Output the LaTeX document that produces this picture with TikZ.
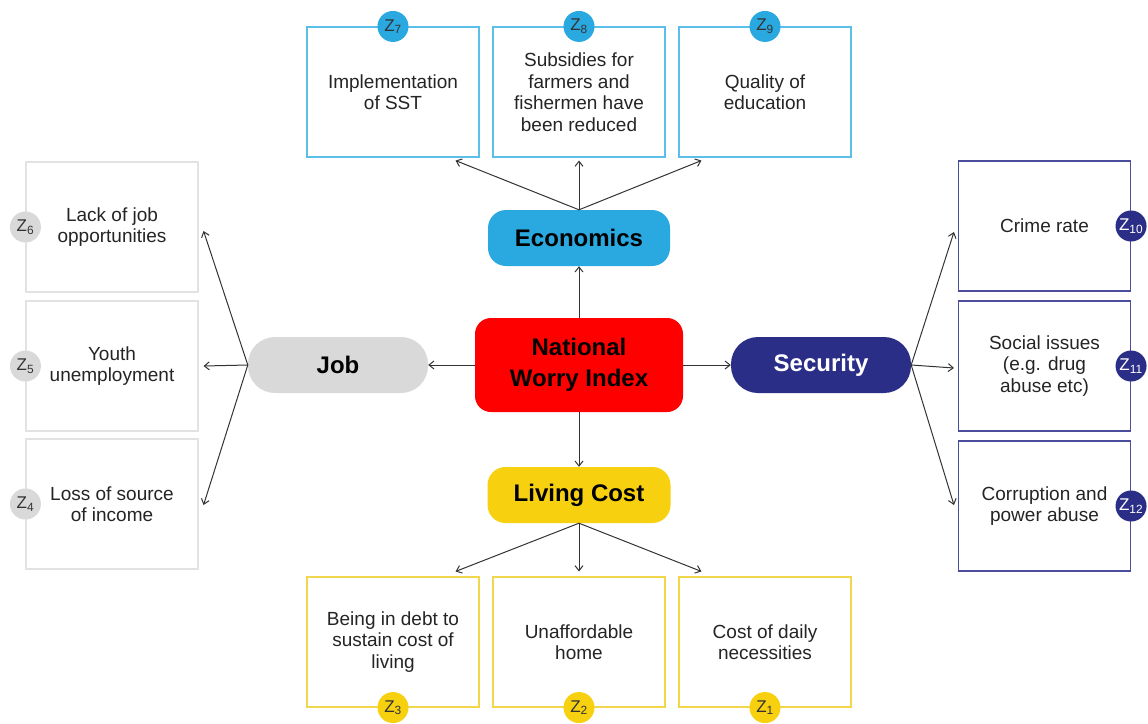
\documentclass[tikz,border=0pt]{standalone}
\usepackage{fontspec}
\setmainfont{Liberation Sans}
\usetikzlibrary{arrows.meta}

\definecolor{ecoblue}{HTML}{2AA8E0}
\definecolor{ecoline}{HTML}{5CBFE9}
\definecolor{jobgray}{HTML}{D9D9D9}
\definecolor{jobline}{HTML}{E2E2E2}
\definecolor{secnavy}{HTML}{2B2E86}
\definecolor{secline}{HTML}{4A4E9C}
\definecolor{livyellow}{HTML}{F7D00F}
\definecolor{livline}{HTML}{F2D64C}
\definecolor{worryred}{HTML}{FF0000}
\definecolor{inkgray}{HTML}{333333}

\tikzset{
  headnode/.style={rounded corners=#1, minimum width=182pt, minimum height=56pt,
    inner sep=0pt, font=\fontsize{24}{29}\selectfont\bfseries},
  headnode/.default=18pt,
  itembox/.style={draw=#1, line width=1.1pt, minimum width=172pt, minimum height=130pt,
    inner sep=2pt, align=center, font=\fontsize{19}{21.5}\selectfont, text=inkgray!70!black},
  badge/.style={circle, fill=#1, minimum size=31pt, inner sep=0pt,
    font=\fontsize{17}{17}\selectfont, text=inkgray},
  link/.style={-{Straight Barb[length=5pt,width=8pt]}, inkgray, line width=1pt}
}

\begin{document}
\begin{tikzpicture}[x=1pt, y=-1pt]
    \useasboundingbox (0,0) rectangle (1148,723);

    % Central index and the four themes
    \node[headnode=16pt, fill=worryred, minimum width=208pt, minimum height=94pt, align=center,
          font=\fontsize{24}{31}\selectfont\bfseries] (nwi) at (579,365) {National\\Worry Index};
    \node[headnode, fill=ecoblue] (eco) at (579,238) {Economics};
    \node[headnode=27pt, fill=jobgray, minimum width=180pt] (job) at (338,365) {Job};
    \node[headnode=27pt, fill=secnavy, text=white, minimum width=180pt] (sec) at (821,365) {Security};
    \node[headnode, fill=livyellow, minimum width=183pt] (liv) at (579,495) {Living Cost};

    \draw[link] (nwi.north) -- (eco.south);
    \draw[link] (nwi.south) -- (liv.north);
    \draw[link] (nwi.west) -- (job.east);
    \draw[link] (nwi.east) -- (sec.west);

    % Economics items along the top
    \foreach \i/\x/\txt/\z in {1/393/{Implementation\\of SST}/7,
        2/579/{Subsidies for\\farmers and\\fishermen have\\been reduced}/8,
        3/765/{Quality of\\education}/9} {
        \node[itembox=ecoline] (t\i) at (\x,92) {\txt};
        \node[badge=ecoblue] (z\z) at (t\i.north) {Z\textsubscript{\z}};
    }

    % Living cost items along the bottom
    \foreach \i/\x/\txt/\z in {1/393/{Being in debt to\\sustain cost of\\living}/3,
        2/579/{Unaffordable\\home}/2,
        3/765/{Cost of daily\\necessities}/1} {
        \node[itembox=livline] (b\i) at (\x,642) {\txt};
        \node[badge=livyellow] (z\z) at (b\i.south) {Z\textsubscript{\z}};
    }

    % Job items on the left
    \foreach \i/\y/\txt/\z in {1/227/{Lack of job\\opportunities}/6,
        2/366/{Youth\\unemployment}/5,
        3/504/{Loss of source\\of income}/4} {
        \node[itembox=jobline] (l\i) at (112,\y) {\txt};
        \node[badge=jobgray] (z\z) at (l\i.west) {Z\textsubscript{\z}};
    }

    % Security items on the right
    \foreach \i/\y/\txt/\z in {1/226/{Crime rate}/10,
        2/366/{Social issues\\(e.g. drug\\abuse etc)}/11,
        3/506/{Corruption and\\power abuse}/12} {
        \node[itembox=secline] (r\i) at (1044.5,\y) {\txt};
        \node[badge=secnavy, text=white] (z\z) at (r\i.east) {Z\textsubscript{\z}};
    }

    % Fan-out arrows from each theme
    \draw[link] (eco.north) -- ([xshift=-24pt, yshift=-3pt]t1.south east);
    \draw[link] (eco.north) -- ([yshift=-3pt]t2.south);
    \draw[link] (eco.north) -- ([xshift=23pt, yshift=-3pt]t3.south west);

    \draw[link] (liv.south) -- ([xshift=-24pt, yshift=5pt]b1.north east);
    \draw[link] (liv.south) -- ([yshift=5pt]b2.north);
    \draw[link] (liv.south) -- ([xshift=23pt, yshift=5pt]b3.north west);

    \draw[link] (job.west) -- ([xshift=5pt, yshift=-4pt]l1.east);
    \draw[link] (job.west) -- ([xshift=5pt]l2.east);
    \draw[link] (job.west) -- ([xshift=5pt, yshift=-1pt]l3.east);

    \draw[link] (sec.east) -- ([xshift=-4pt, yshift=-6pt]r1.west);
    \draw[link] (sec.east) -- ([xshift=-4pt, yshift=-2pt]r2.west);
    \draw[link] (sec.east) -- ([xshift=-4pt, yshift=1pt]r3.west);

\end{tikzpicture}
\end{document}
